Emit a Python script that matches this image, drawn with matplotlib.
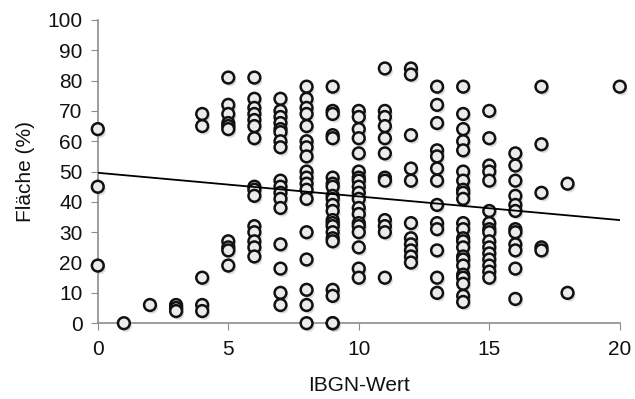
import matplotlib
matplotlib.use("Agg")
import matplotlib.pyplot as plt
import matplotlib.patheffects as pe
import numpy as np

plt.rcParams["font.family"] = ["Liberation Sans", "DejaVu Sans"]

# IBGN-Wert -> Fläche (%) values, grouped per x value
points = {
    0: [64, 45, 19],
    1: [0],
    2: [6],
    3: [6, 5, 4],
    4: [69, 65, 15, 6, 4],
    5: [81, 72, 69, 66, 65, 64, 27, 25, 24, 19],
    6: [81, 74, 71, 69, 67, 65, 61, 45, 44, 42, 32, 30, 27, 25, 22],
    7: [74, 70, 68, 66, 64, 63, 60, 58, 47, 45, 43, 41, 38, 26, 18, 10, 6],
    8: [78, 74, 71, 69, 65, 60, 58, 55, 50, 48, 46, 44, 41, 30, 21, 11, 6, 0],
    9: [78, 70, 69, 62, 61, 48, 46, 45, 42, 41, 39, 37, 34, 33, 32, 30, 28, 27, 11, 9, 0, 0],
    10: [70, 68, 64, 61, 56, 50, 48, 47, 45, 43, 41, 38, 36, 33, 32, 30, 25, 18, 15],
    11: [84, 70, 68, 65, 61, 56, 48, 47, 34, 32, 30, 15],
    12: [84, 82, 62, 51, 47, 33, 28, 26, 24, 22, 20],
    13: [78, 72, 66, 57, 55, 51, 47, 39, 33, 31, 24, 15, 10],
    14: [78, 69, 64, 60, 57, 50, 47, 44, 43, 41, 33, 31, 28, 27, 25, 22, 21, 19, 16, 15, 13, 9, 7],
    15: [70, 61, 52, 50, 47, 37, 33, 31, 30, 27, 25, 23, 21, 19, 17, 15],
    16: [56, 52, 47, 42, 39, 37, 31, 30, 26, 24, 18, 8],
    17: [78, 59, 43, 25, 24],
    18: [46, 10],
    20: [78],
}

ibgn = np.array([k for k, vals in points.items() for _ in vals], dtype=float)
flaeche = np.array([v for vals in points.values() for v in vals], dtype=float)

# trend line
trend_x = [0, 20]
trend_y = [49.6, 34.0]

fig = plt.figure(figsize=(6.35, 3.99), dpi=100)
ax = fig.add_axes([0.154, 0.19, 0.822, 0.76])

ax.scatter(ibgn, flaeche, s=72, facecolor="#ebebeb", edgecolor="#111111",
           linewidth=1.8, zorder=3, clip_on=False,
           path_effects=[pe.SimplePatchShadow(offset=(1.5, -2), shadow_rgbFace="#999999", alpha=0.35),
                         pe.Normal()])
ax.plot(trend_x, trend_y, color="black", linewidth=1.3, zorder=4)

ax.set_xlim(0, 20)
ax.set_ylim(0, 100)
ax.set_xticks(range(0, 21, 5))
ax.set_yticks(range(0, 101, 10))

for side in ["top", "right"]:
    ax.spines[side].set_visible(False)
for side in ["left", "bottom"]:
    ax.spines[side].set_color("#8c8c8c")
    ax.spines[side].set_linewidth(1.2)

ax.tick_params(axis="both", direction="out", length=5, color="#8c8c8c",
               labelsize=15, labelcolor="#111111")
ax.tick_params(axis="y", pad=6)
ax.tick_params(axis="x", pad=7)

ax.set_xlabel("IBGN-Wert", fontsize=15, color="#111111", labelpad=12)
ax.set_ylabel("Fläche (%)", fontsize=15, color="#111111", labelpad=9)

fig.savefig("out.png", dpi=100)
